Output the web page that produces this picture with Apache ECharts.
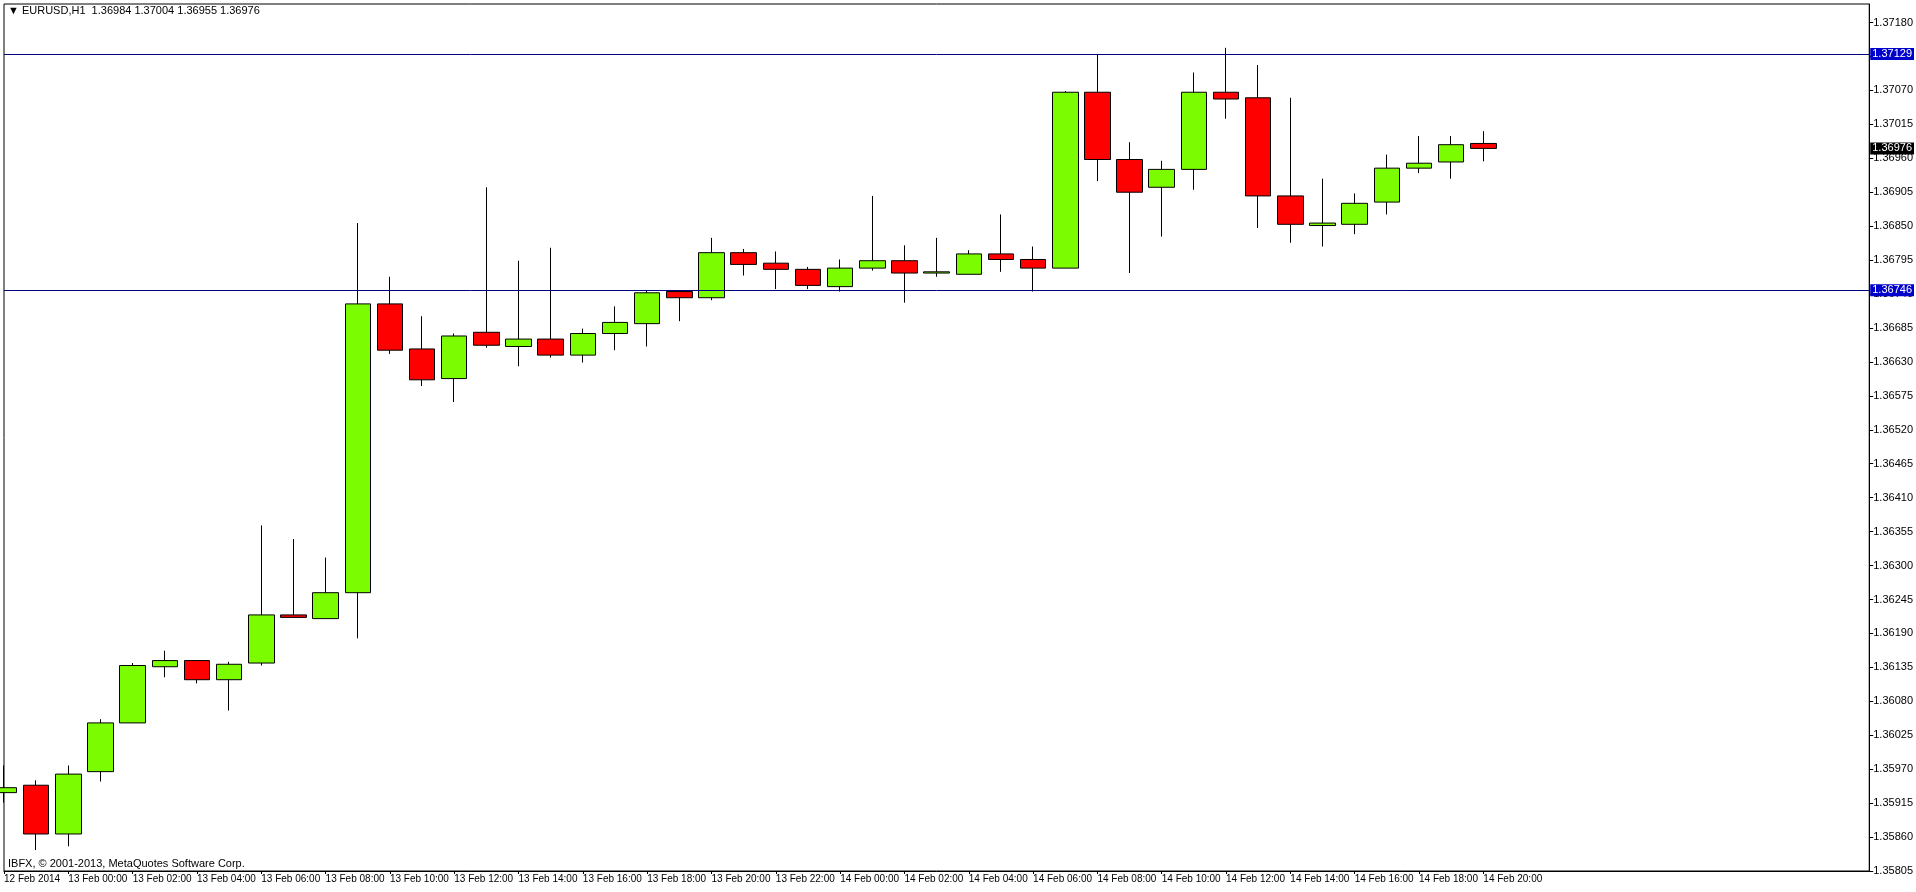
<!DOCTYPE html>
<html><head><meta charset="utf-8">
<script src="https://cdn.jsdelivr.net/npm/echarts@6/dist/echarts.min.js"></script>
<style>html,body{margin:0;padding:0;background:#fff}#c{width:1916px;height:892px}</style>
</head><body><div id="c"></div>
<script>
// [open, close, low, high]
const ohlc = [
[1.35932,1.35940,1.35916,1.35976],[1.35944,1.35865,1.35839,1.35952],[1.35865,1.35962,1.35845,1.35976],
[1.35966,1.36045,1.35950,1.36051],[1.36045,1.36138,1.36045,1.36142],[1.36136,1.36146,1.36119,1.36162],
[1.36146,1.36115,1.36109,1.36146],[1.36115,1.36140,1.36065,1.36144],[1.36142,1.36220,1.36138,1.36365],
[1.36220,1.36216,1.36216,1.36343],[1.36214,1.36256,1.36214,1.36313],[1.36256,1.36724,1.36182,1.36855],
[1.36724,1.36649,1.36643,1.36768],[1.36651,1.36601,1.36591,1.36704],[1.36603,1.36672,1.36565,1.36676],
[1.36678,1.36657,1.36653,1.36913],[1.36655,1.36667,1.36623,1.36794],[1.36667,1.36641,1.36637,1.36815],
[1.36641,1.36676,1.36629,1.36684],[1.36676,1.36694,1.36649,1.36720],[1.36692,1.36742,1.36655,1.36746],
[1.36744,1.36734,1.36696,1.36746],[1.36734,1.36807,1.36730,1.36831],[1.36807,1.36788,1.36770,1.36813],
[1.36790,1.36780,1.36748,1.36809],[1.36780,1.36754,1.36748,1.36784],[1.36752,1.36782,1.36744,1.36796],
[1.36782,1.36794,1.36778,1.36899],[1.36794,1.36774,1.36726,1.36819],[1.36774,1.36776,1.36768,1.36831],
[1.36772,1.36805,1.36772,1.36811],[1.36805,1.36796,1.36776,1.36869],[1.36796,1.36782,1.36744,1.36817],
[1.36782,1.37067,1.36782,1.37069],[1.37067,1.36958,1.36923,1.37129],[1.36958,1.36905,1.36774,1.36986],
[1.36913,1.36942,1.36833,1.36956],[1.36942,1.37067,1.36909,1.37099],[1.37067,1.37056,1.37024,1.37139],
[1.37058,1.36899,1.36847,1.37111],[1.36899,1.36853,1.36823,1.37058],[1.36851,1.36855,1.36817,1.36927],
[1.36853,1.36887,1.36837,1.36903],[1.36889,1.36944,1.36869,1.36966],[1.36944,1.36952,1.36936,1.36996],
[1.36954,1.36982,1.36927,1.36996],[1.36984,1.36976,1.36955,1.37004]
];
const levels = [1.37129, 1.36746];
const lastPrice = 1.36976;
const header = '\u25BC EURUSD,H1  1.36984 1.37004 1.36955 1.36976';
const footer = 'IBFX, \u00A9 2001-2013, MetaQuotes Software Corp.';
const firstLabel = '12 Feb 2014';
const TOTAL = 59;
const cats = [];
for (let i = 0; i < TOTAL; i++) {
  const h = i + 22; const day = 12 + Math.floor(h / 24); const hh = h % 24;
  cats.push(i === 0 ? firstLabel : day + ' Feb ' + String(hh).padStart(2,'0') + ':00');
}
const F = '"Liberation Sans", Arial, sans-serif';
const last = ohlc.length - 1;
function lvl(v, bg, lineColor) {
  return [{coord:[0, v], lineStyle:{color:lineColor,width:1,type:'solid'},
    label:{position:'end',formatter:v.toFixed(5),backgroundColor:bg,color:'#fff',fontSize:11,fontFamily:F,padding:[1,2,0,2],distance:1}},
    {coord:[TOTAL-1, v]}];
}
const chart = echarts.init(document.getElementById('c'));
chart.setOption({
  animation:false,
  backgroundColor:'#fff',
  grid:{left:4,right:43,top:4,bottom:21,show:true,borderColor:'#000',borderWidth:1},
  xAxis:{type:'category',data:cats,boundaryGap:false,
    axisLine:{lineStyle:{color:'#000'}},
    axisTick:{interval:(i)=>i%2===0 && i<=last,length:3,lineStyle:{color:'#000'}},
    axisLabel:{interval:1,align:'left',margin:3,color:'#000',fontSize:10,fontFamily:F,
      formatter:(v,i)=> i<=last ? v : '',
      showMinLabel:true,showMaxLabel:false,hideOverlap:false},
    splitLine:{show:false}},
  yAxis:{type:'value',position:'right',min:1.35805,max:1.37210,interval:0.00055,scale:true,
    axisLine:{show:true,lineStyle:{color:'#000'}},
    axisTick:{show:true,length:4,inside:false,lineStyle:{color:'#000'}},
    axisLabel:{color:'#000',fontSize:11,fontFamily:F,margin:4,showMaxLabel:false,formatter:v=>v.toFixed(5)},
    splitLine:{show:false}},
  graphic:[
    {type:'text',left:8,top:5,style:{text:header,font:'11px '+F,fill:'#000'}},
    {type:'text',left:8,top:858,style:{text:footer,font:'11px '+F,fill:'#000'}}
  ],
  series:[{type:'candlestick',data:ohlc,barWidth:26,
    itemStyle:{color:'#7CFC00',color0:'#FF0000',borderColor:'#000',borderColor0:'#000',borderWidth:1},
    markLine:{symbol:'none',silent:true,animation:false,
      data:[lvl(levels[0],'#0000CD','#000080'), lvl(levels[1],'#0000CD','#000080'), lvl(lastPrice,'#000','rgba(0,0,0,0)')]}}]
});
</script></body></html>
